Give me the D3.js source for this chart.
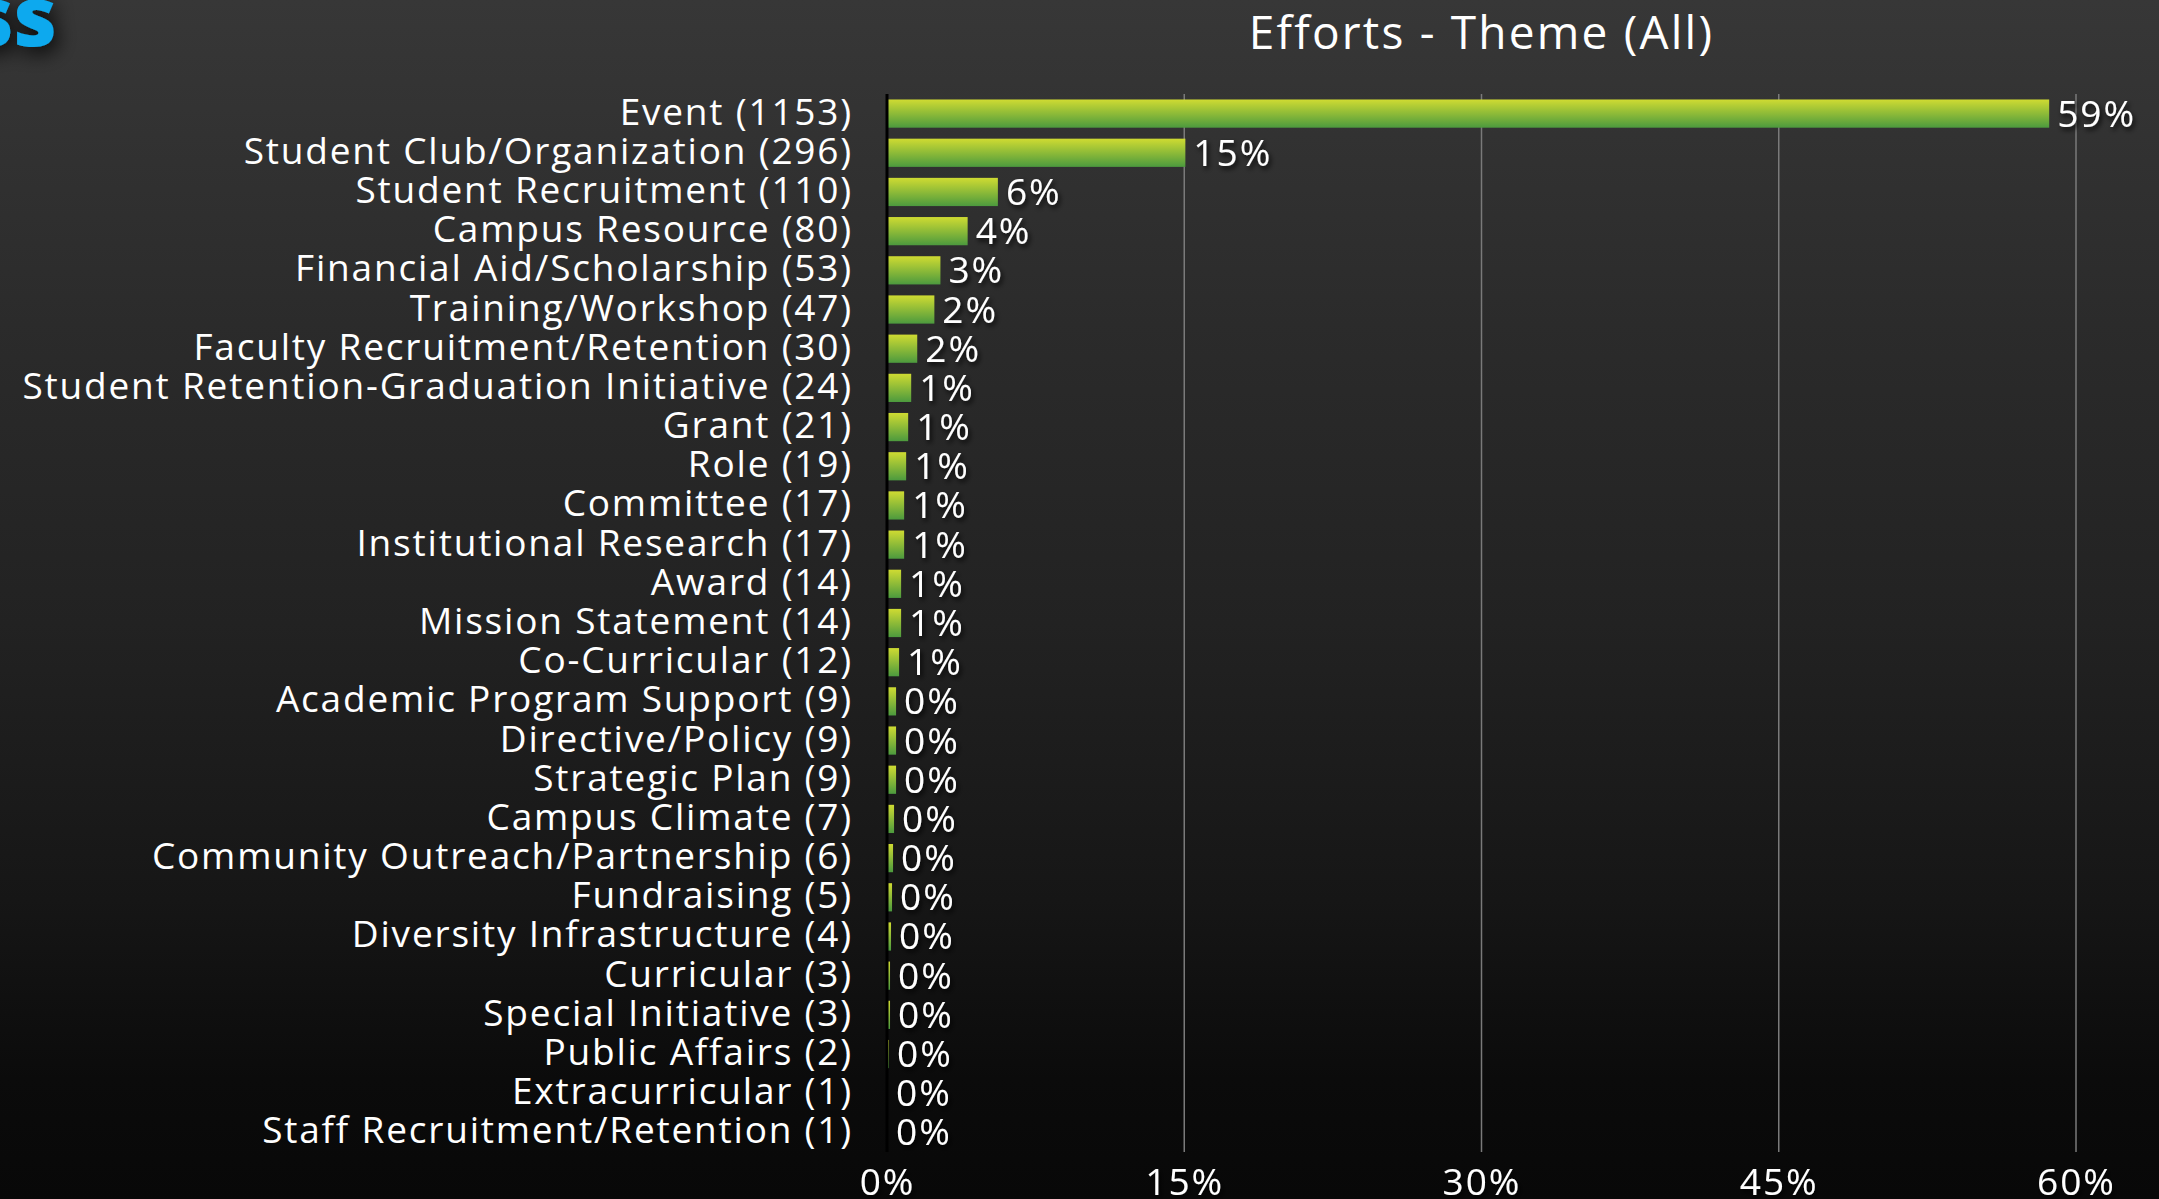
<!DOCTYPE html>
<html>
<head>
<meta charset="utf-8">
<script src="https://cdn.jsdelivr.net/npm/d3@7"></script>
<style>
  html, body { margin: 0; padding: 0; background: #000; overflow: hidden; }
  svg { display: block; }
</style>
</head>
<body>
<svg id="chart" width="2159" height="1199"></svg>
<script>
// Theme categories and their effort counts
const themes = [
  "Event", "Student Club/Organization", "Student Recruitment", "Campus Resource",
  "Financial Aid/Scholarship", "Training/Workshop", "Faculty Recruitment/Retention",
  "Student Retention-Graduation Initiative", "Grant", "Role", "Committee",
  "Institutional Research", "Award", "Mission Statement", "Co-Curricular",
  "Academic Program Support", "Directive/Policy", "Strategic Plan", "Campus Climate",
  "Community Outreach/Partnership", "Fundraising", "Diversity Infrastructure",
  "Curricular", "Special Initiative", "Public Affairs", "Extracurricular",
  "Staff Recruitment/Retention"
];
const counts = [
  1153, 296, 110, 80, 53, 47, 30, 24, 21, 19, 17, 17, 14, 14, 12,
  9, 9, 9, 7, 6, 5, 4, 3, 3, 2, 1, 1
];
const tickValues = [0, 15, 30, 45, 60];
const chartTitle = "Efforts - Theme (All)";
const headingTail = "ss";

const W = 2159, H = 1199;
const total = d3.sum(counts);
const rows = themes.map((t, i) => ({
  theme: t,
  count: counts[i],
  pct: counts[i] / total * 100
}));

const svg = d3.select("#chart");
const defs = svg.append("defs");

// Background: dark vertical fade
const bg = defs.append("linearGradient").attr("id", "bg")
  .attr("x1", 0).attr("y1", 0).attr("x2", 0).attr("y2", 1);
[["0", "#373737"], ["0.27", "#2b2b2b"], ["0.52", "#222222"], ["0.75", "#161616"],
 ["0.9", "#0b0b0b"], ["1", "#080808"]].forEach(([o, c]) =>
  bg.append("stop").attr("offset", o).attr("stop-color", c));

// Bar fill: yellow-green on top fading to green
const barGrad = defs.append("linearGradient").attr("id", "barGrad")
  .attr("x1", 0).attr("y1", 0).attr("x2", 0).attr("y2", 1);
barGrad.append("stop").attr("offset", "0").attr("stop-color", "#cfdb32");
barGrad.append("stop").attr("offset", "1").attr("stop-color", "#4c9a3e");

// Soft drop shadow for value labels
const sh = defs.append("filter").attr("id", "shadow")
  .attr("x", "-20%").attr("y", "-30%").attr("width", "150%").attr("height", "170%");
sh.append("feDropShadow").attr("dx", 2).attr("dy", 3).attr("stdDeviation", 2.5)
  .attr("flood-color", "#000").attr("flood-opacity", 0.85);

// Glow behind the heading
const glow = defs.append("filter").attr("id", "glow")
  .attr("x", "-50%").attr("y", "-50%").attr("width", "220%").attr("height", "220%");
glow.append("feDropShadow").attr("dx", 4).attr("dy", 6).attr("stdDeviation", 10)
  .attr("flood-color", "#000").attr("flood-opacity", 0.9);

svg.append("rect").attr("width", W).attr("height", H).attr("fill", "url(#bg)");

// Heading fragment, top-left
svg.append("text")
  .attr("x", 57).attr("y", 46)
  .attr("text-anchor", "end")
  .attr("font-family", "'Open Sans', sans-serif")
  .attr("font-weight", 800)
  .attr("font-size", 84)
  .attr("fill", "#0aa9ee")
  .attr("filter", "url(#glow)")
  .text(headingTail);

// Scales
const xLeft = 887, xRight = 2076;
const plotTop = 94, plotBottom = 1152;
const x = d3.scaleLinear().domain([0, 60]).range([xLeft, xRight]);
const y = d3.scaleBand().domain(themes).range([plotTop, plotBottom]).paddingInner(0.28).paddingOuter(0.14);

const font = "'Open Sans', sans-serif";

// Title
svg.append("text")
  .attr("x", (xLeft + xRight) / 2).attr("y", 49)
  .attr("text-anchor", "middle")
  .attr("font-family", font)
  .attr("font-size", 46)
  .attr("font-weight", 500)
  .attr("letter-spacing", 2.2)
  .attr("fill", "#ffffff")
  .text(chartTitle);

// Vertical gridlines
svg.append("g").selectAll("line")
  .data(tickValues.filter(v => v > 0))
  .join("line")
  .attr("x1", d => x(d)).attr("x2", d => x(d))
  .attr("y1", plotTop).attr("y2", plotBottom)
  .attr("stroke", "#7a7a7a").attr("stroke-width", 1.5);

// Bottom axis labels
const axis = d3.axisBottom(x).tickValues(tickValues).tickFormat(d => d + "%").tickSize(0).tickPadding(0);
const ax = svg.append("g").attr("transform", `translate(0, ${plotBottom})`).call(axis);
ax.select(".domain").remove();
ax.selectAll("text")
  .attr("y", 43)
  .attr("dy", 0)
  .attr("font-family", font)
  .attr("font-size", 37)
  .attr("font-weight", 500)
  .attr("letter-spacing", 2)
  .attr("fill", "#ffffff")
  .attr("filter", "url(#shadow)");

// Bars
svg.append("g").selectAll("rect")
  .data(rows)
  .join("rect")
  .attr("x", x(0))
  .attr("y", d => y(d.theme))
  .attr("width", d => Math.max(0, x(d.pct) - x(0)))
  .attr("height", y.bandwidth())
  .attr("fill", "url(#barGrad)");

// Zero axis line
svg.append("line")
  .attr("x1", x(0)).attr("x2", x(0))
  .attr("y1", plotTop).attr("y2", plotBottom)
  .attr("stroke", "#000").attr("stroke-width", 3);

// Category labels with counts
svg.append("g").selectAll("text")
  .data(rows)
  .join("text")
  .attr("x", 853)
  .attr("y", d => y(d.theme) + y.bandwidth() / 2 + 11)
  .attr("text-anchor", "end")
  .attr("font-family", font)
  .attr("font-size", 37)
  .attr("font-weight", 500)
  .attr("letter-spacing", 1.8)
  .attr("fill", "#ffffff")
  .text(d => `${d.theme} (${d.count})`);

// Percentage value labels
svg.append("g").selectAll("text")
  .data(rows)
  .join("text")
  .attr("x", d => x(d.pct) + 8)
  .attr("y", d => y(d.theme) + y.bandwidth() / 2 + 13)
  .attr("font-family", font)
  .attr("font-size", 37)
  .attr("font-weight", 500)
  .attr("letter-spacing", 2)
  .attr("fill", "#ffffff")
  .attr("filter", "url(#shadow)")
  .text(d => Math.round(d.pct) + "%");
</script>
</body>
</html>
